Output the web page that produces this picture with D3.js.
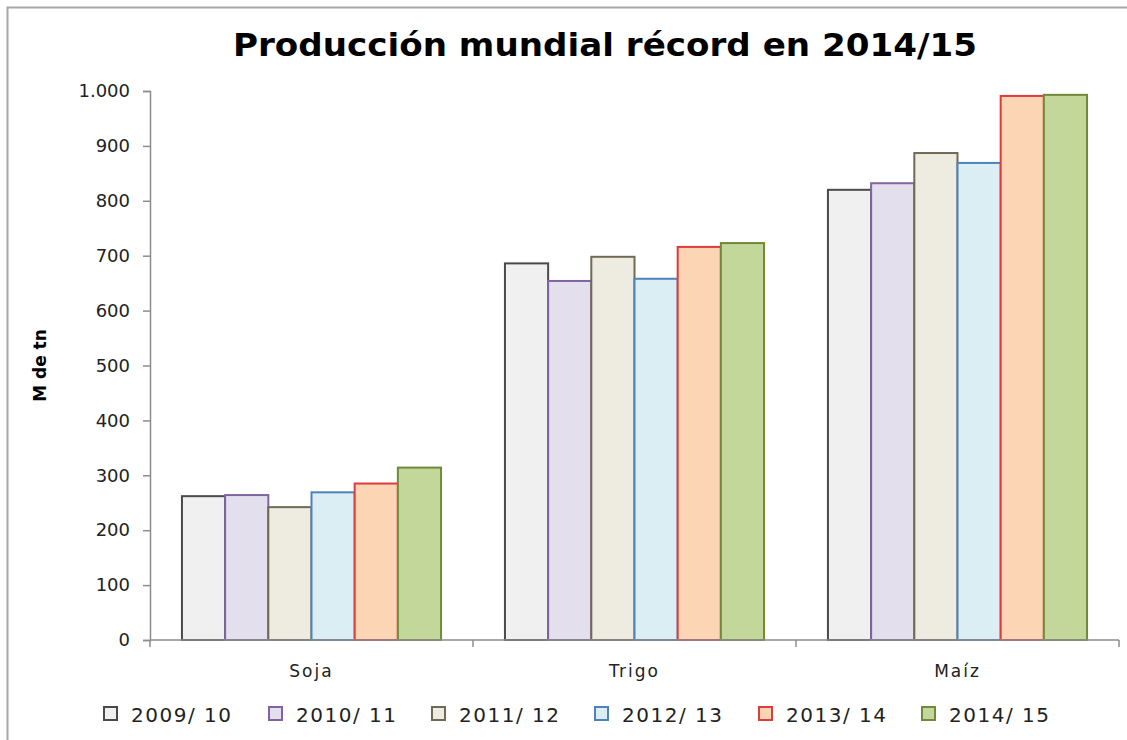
<!DOCTYPE html>
<html>
<head>
<meta charset="utf-8">
<script src="https://cdn.jsdelivr.net/npm/d3@7"></script>
<style>
  body { margin: 0; background: #fff; }
  text { font-family: "DejaVu Sans", Verdana, sans-serif; fill: #222; }
</style>
</head>
<body>
<svg id="chart-svg" width="1127" height="740"></svg>
<script>
////////////////////////////////////////////////////////////////////////////////
// Data (M de tn)
var cultivos = ["Soja", "Trigo", "Maíz"];
var campanas = ["2009/10", "2010/11", "2011/12", "2012/13", "2013/14", "2014/15"];
var soja  = [262, 264, 242, 269, 285, 314];
var trigo = [686, 654, 698, 658, 716, 723];
var maiz  = [820, 832, 887, 869, 991, 993];
var yTicks = [0, 100, 200, 300, 400, 500, 600, 700, 800, 900, 1000];

var fills   = ["#f0f0f0", "#e4dfec", "#eeece1", "#daeef3", "#fcd5b4", "#c4d79b"];
var strokes = ["#4a4a4a", "#8064a2", "#6e6a55", "#4f81bd", "#e03a3a", "#6f8a3a"];

var rows = [soja, trigo, maiz];

////////////////////////////////////////////////////////////////////////////////
const svg = d3.select("#chart-svg");
var margin_left = 150, plot_right = 1119, plot_top = 91, plot_bottom = 640;

// outer frame (right and bottom edges fall outside the picture)
svg.append("rect")
   .attr("x", 7.5).attr("y", 7.5)
   .attr("width", 1140).attr("height", 760)
   .attr("fill", "none").attr("stroke", "#a6a6a6").attr("stroke-width", 2);

var x0 = d3.scaleBand().domain(cultivos).range([margin_left, plot_right]).paddingInner(0).paddingOuter(0);
var x1 = d3.scaleBand().domain(campanas).range([0, x0.bandwidth()]).paddingOuter(0.74);
var y = d3.scaleLinear().domain([0, 1000]).range([plot_bottom, plot_top]);

// title
svg.append("text")
   .attr("x", 605).attr("y", 56)
   .attr("text-anchor", "middle")
   .attr("textLength", 744).attr("lengthAdjust", "spacingAndGlyphs")
   .style("font-size", "32px").style("font-weight", "bold").style("fill", "#000")
   .text("Producción mundial récord en 2014/15");

// y axis label
svg.append("text")
   .attr("transform", "translate(46," + y(500) + ") rotate(-90)")
   .attr("text-anchor", "middle")
   .style("font-size", "17px").style("font-weight", "bold").style("fill", "#000")
   .text("M de tn");

// bars
cultivos.forEach(function(c, ci) {
  var g = svg.append("g").attr("transform", "translate(" + x0(c) + ",0)");
  g.selectAll("rect")
   .data(rows[ci])
   .enter()
   .append("rect")
   .attr("x", function(d, i) { return x1(campanas[i]); })
   .attr("y", function(d) { return y(d); })
   .attr("width", x1.bandwidth())
   .attr("height", function(d) { return y(0) - y(d); })
   .attr("fill", function(d, i) { return fills[i]; })
   .attr("stroke", function(d, i) { return strokes[i]; })
   .attr("stroke-width", 2);
});

// y axis
var yAxis = d3.axisLeft(y).tickValues(yTicks).tickSize(7).tickPadding(13)
  .tickFormat(function(d) { return d === 1000 ? "1.000" : d; });
var gy = svg.append("g").attr("transform", "translate(" + margin_left + ",0)").call(yAxis);
gy.select(".domain").attr("stroke", "#8c8c8c").attr("stroke-width", 1.5);
gy.selectAll(".tick line").attr("stroke", "#8c8c8c").attr("stroke-width", 1.5);
gy.selectAll(".tick text").style("font-size", "18px").style("font-family", "DejaVu Sans").attr("fill", "#222");

// x axis
var gx = svg.append("g").attr("transform", "translate(0," + plot_bottom + ")");
gx.append("line").attr("x1", margin_left).attr("x2", plot_right)
  .attr("stroke", "#8c8c8c").attr("stroke-width", 1.5);
var sepTicks = cultivos.map(function(c) { return x0(c); }).concat([plot_right]);
gx.selectAll(".sep").data(sepTicks).enter().append("line")
  .attr("x1", function(d) { return d; }).attr("x2", function(d) { return d; })
  .attr("y1", 0).attr("y2", 7)
  .attr("stroke", "#8c8c8c").attr("stroke-width", 1.5);
gx.selectAll(".cat").data(cultivos).enter().append("text")
  .attr("x", function(d) { return x0(d) + x0.bandwidth() / 2; })
  .attr("y", 37)
  .attr("text-anchor", "middle")
  .style("font-size", "17px").style("letter-spacing", "2px")
  .text(function(d) { return d; });

// legend
var legX = [104, 269, 432, 595, 759, 922];
var leg = svg.selectAll(".leg").data(campanas).enter().append("g")
  .attr("transform", function(d, i) { return "translate(" + legX[i] + ",707)"; });
leg.append("rect").attr("width", 13).attr("height", 13)
  .attr("fill", function(d, i) { return fills[i]; })
  .attr("stroke", function(d, i) { return strokes[i]; })
  .attr("stroke-width", 2);
leg.append("text").attr("x", 27).attr("y", 15)
  .style("font-size", "20px").style("letter-spacing", "1.5px")
  .text(function(d) { return d.replace("/", "/ "); });
</script>
</body>
</html>
